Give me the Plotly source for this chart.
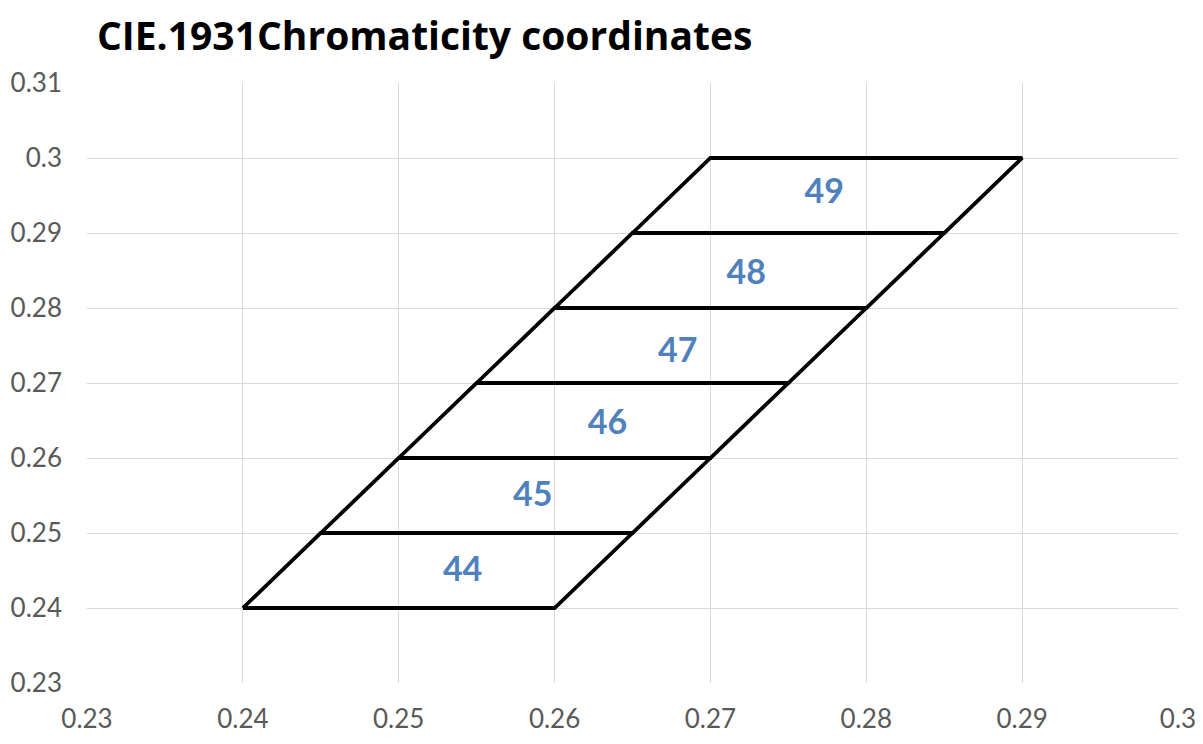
import plotly.graph_objects as go

# Bin edges (CIE 1931 x, y)
bin_names = ["44", "45", "46", "47", "48", "49"]
y_low = [0.24, 0.25, 0.26, 0.27, 0.28, 0.29]
y_high = [0.25, 0.26, 0.27, 0.28, 0.29, 0.30]
x_low_left = [0.240, 0.245, 0.250, 0.255, 0.260, 0.265]
x_low_right = [0.260, 0.265, 0.270, 0.275, 0.280, 0.285]
x_high_left = [0.245, 0.250, 0.255, 0.260, 0.265, 0.270]
x_high_right = [0.265, 0.270, 0.275, 0.280, 0.285, 0.290]

# Label positions
label_x = [0.2541, 0.2586, 0.2634, 0.2679, 0.2723, 0.2773]
label_y = [0.2447, 0.2548, 0.2644, 0.2740, 0.2844, 0.2951]

x_ticks = [0.23, 0.24, 0.25, 0.26, 0.27, 0.28, 0.29, 0.30]
x_tick_text = ["0.23", "0.24", "0.25", "0.26", "0.27", "0.28", "0.29", "0.3"]
y_ticks = [0.23, 0.24, 0.25, 0.26, 0.27, 0.28, 0.29, 0.30, 0.31]
y_tick_text = ["0.23", "0.24", "0.25", "0.26", "0.27", "0.28", "0.29", "0.3", "0.31"]

fig = go.Figure()
for i in range(len(bin_names)):
    xs = [x_low_left[i], x_low_right[i], x_high_right[i], x_high_left[i], x_low_left[i]]
    ys = [y_low[i], y_low[i], y_high[i], y_high[i], y_low[i]]
    fig.add_trace(go.Scatter(x=xs, y=ys, mode="lines",
                             line=dict(color="black", width=3.8),
                             hoverinfo="skip", showlegend=False))

fig.add_trace(go.Scatter(x=label_x, y=label_y, mode="text", text=bin_names,
                         textfont=dict(family="Lato, Open Sans, sans-serif", size=34,
                                       color="#4F81BD", weight="bold"),
                         showlegend=False, hoverinfo="skip"))

tickfont = dict(family="Lato, sans-serif", size=26, color="#595959")
fig.update_layout(
    width=1203, height=744,
    margin=dict(l=79, r=33, t=75, b=69),
    paper_bgcolor="white", plot_bgcolor="white",
    title=dict(text="<b>CIE.1931Chromaticity coordinates</b>", x=0.074, xanchor="left",
               y=0.962, yanchor="middle",
               font=dict(family="Open Sans, Lato, sans-serif", size=39, color="black")),
    xaxis=dict(range=[0.23, 0.30], tickvals=x_ticks, ticktext=x_tick_text,
               showgrid=True, gridcolor="#d9d9d9", gridwidth=1.3, zeroline=False,
               showline=False, tickfont=tickfont, ticks="", ticklen=0,
               automargin=False),
    yaxis=dict(range=[0.23, 0.31], tickvals=y_ticks, ticktext=y_tick_text,
               showgrid=True, gridcolor="#d9d9d9", gridwidth=1.3, zeroline=False,
               showline=False, tickfont=tickfont, ticks="", ticklen=0,
               automargin=False),
)
fig.update_xaxes(ticklabelstandoff=18)
fig.update_yaxes(ticklabelstandoff=24)

fig.write_html("out.html")
